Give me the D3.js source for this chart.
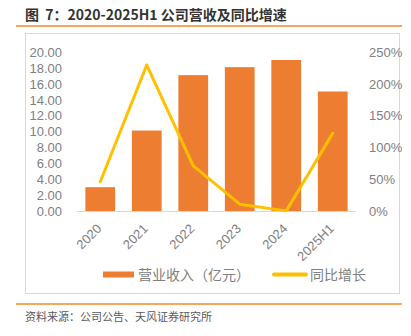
<!DOCTYPE html>
<html><head><meta charset="utf-8">
<script src="https://cdn.jsdelivr.net/npm/d3@7"></script>
<style>
body{margin:0;background:#fff;}
svg{display:block;}
</style></head>
<body>
<svg id="c" width="411" height="336"></svg>
<script>
const categories = ["2020","2021","2022","2023","2024","2025H1"];
const revenue = [3.05, 10.15, 17.1, 18.1, 19.0, 15.05];
const growth = [46.7, 229.6, 71.5, 11.5, 1.0, 122.6];
const leftTicks = [0,2,4,6,8,10,12,14,16,18,20];
const rightTicks = [0,50,100,150,200,250];
const titleParts = ["图", " 7：2020-2025H1 公司营收及同比增速"];
const sourceText = "资料来源：公司公告、天风证券研究所";
const legendLabels = ["营业收入（亿元）","同比增长"];

const svg = d3.select("#c");
const barColor = "#ED7D31", lineColor = "#FFC000", textGrey = "#808080";
const numFont = "'Liberation Sans', Arial, sans-serif";
const cjkFont = "'Noto Sans CJK SC', sans-serif";

// title
const t = svg.append("text").attr("x",25).attr("y",20).attr("font-family",cjkFont)
  .attr("font-size",14).attr("font-weight","bold").attr("fill","#333333");
t.append("tspan").text(titleParts[0]);
t.append("tspan").attr("dx",3).text(titleParts[1]);
svg.append("line").attr("x1",16).attr("x2",402).attr("y1",26).attr("y2",26)
  .attr("stroke","#F08A24").attr("stroke-width",1.5);
// frame
svg.append("rect").attr("x",25.5).attr("y",33.5).attr("width",374).attr("height",260)
  .attr("fill","none").attr("stroke","#d9d9d9").attr("stroke-width",1);
// bottom line + source
svg.append("line").attr("x1",16).attr("x2",402).attr("y1",304).attr("y2",304)
  .attr("stroke","#F08A24").attr("stroke-width",1.5);
svg.append("text").attr("x",25).attr("y",321).attr("font-family",cjkFont)
  .attr("font-size",11).attr("fill","#595959").text(sourceText);

const x = d3.scaleBand().domain(categories).range([77,356]).paddingInner(0.36).paddingOuter(0.18);
const yL = d3.scaleLinear().domain([0,20]).range([211.5,52]);
const yR = d3.scaleLinear().domain([0,250]).range([211.5,52]);

// left axis
const gL = svg.append("g").attr("transform","translate(66,0)")
  .call(d3.axisLeft(yL).tickValues(leftTicks).tickFormat(d3.format(".2f")).tickSize(0).tickPadding(4));
gL.select(".domain").remove();
gL.selectAll("text").attr("font-family",numFont).attr("font-size",13).attr("fill",textGrey);

// right axis
const gR = svg.append("g").attr("transform","translate(365,0)")
  .call(d3.axisRight(yR).tickValues(rightTicks).tickFormat(d=>d+"%").tickSize(0).tickPadding(4));
gR.select(".domain").remove();
gR.selectAll("text").attr("font-family",numFont).attr("font-size",13).attr("fill",textGrey);

// bars
svg.append("g").selectAll("rect").data(categories).join("rect")
  .attr("x",d=>x(d)).attr("width",x.bandwidth())
  .attr("y",(d,i)=>yL(revenue[i])).attr("height",(d,i)=>yL(0)-yL(revenue[i]))
  .attr("fill",barColor);

// baseline
svg.append("line").attr("x1",77).attr("x2",356).attr("y1",211.5).attr("y2",211.5)
  .attr("stroke","#d9d9d9").attr("stroke-width",1);

// line
const line = d3.line().x((d,i)=>x(categories[i])+x.bandwidth()/2).y(d=>yR(d));
svg.append("path").datum(growth).attr("d",line).attr("fill","none")
  .attr("stroke",lineColor).attr("stroke-width",3).attr("stroke-linejoin","round").attr("stroke-linecap","round");

// x labels
const gX = svg.append("g").attr("transform","translate(0,211.5)")
  .call(d3.axisBottom(x).tickSize(0).tickPadding(0));
gX.select(".domain").remove();
gX.selectAll("text").attr("font-family",numFont).attr("font-size",13).attr("fill",textGrey)
  .attr("text-anchor","end").attr("dy",0)
  .attr("transform","translate(2,18) rotate(-45)").attr("y",0).attr("x",0);

// legend
const lg = svg.append("g");
lg.append("rect").attr("x",103).attr("y",271.5).attr("width",31).attr("height",6).attr("fill",barColor);
lg.append("text").attr("x",138).attr("y",279.5).attr("font-family",cjkFont).attr("font-size",14)
  .attr("fill",textGrey).text(legendLabels[0]);
lg.append("line").attr("x1",274).attr("x2",306).attr("y1",274.5).attr("y2",274.5)
  .attr("stroke",lineColor).attr("stroke-width",4).attr("stroke-linecap","round");
lg.append("text").attr("x",310).attr("y",279.5).attr("font-family",cjkFont).attr("font-size",14)
  .attr("fill",textGrey).text(legendLabels[1]);
</script>
</body></html>
